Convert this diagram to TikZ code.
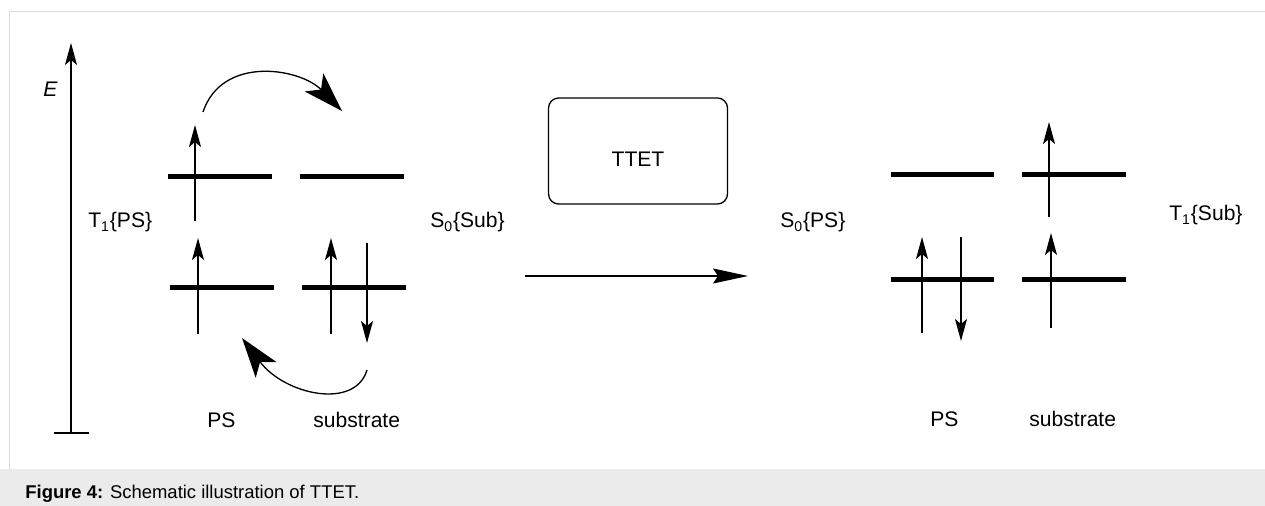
\documentclass[tikz,border=0pt]{standalone}
\usepackage{fontspec}
\setmainfont{Liberation Sans}
\usetikzlibrary{arrows.meta}
\definecolor{captionBand}{HTML}{EBEBEB}
\definecolor{frameLine}{HTML}{DCDCDC}
\newcommand{\labelSize}[0]{\fontsize{12}{14}\selectfont}

\begin{document}
\begin{tikzpicture}[x=0.02cm, y=-0.02cm]
  \tikzset{orbital/.style={line width=1mm},
    spin/.style={line width=0.75pt, -{Stealth[length=4.4mm, width=2.4mm, inset=1mm]}},
    hop/.style={line width=0.75pt, -{Stealth[length=8mm, width=5.2mm, inset=2mm]}},
    transfer/.style={line width=0.75pt, -{Stealth[length=7mm, width=3mm, inset=1mm]}},
    lbl/.style={inner sep=0, anchor=base west, font=\labelSize}}
  \useasboundingbox (0,0) rectangle (1265,506);
  \fill[captionBand] (0,469) rectangle (1265,506);
  \draw[frameLine] (9,469) -- (9,11) -- (1265,11);
  \node (caption) [inner sep=0, anchor=base west, font=\fontsize{10.5}{12}\selectfont]
    at (25,499) {\textbf{Figure 4:} Schematic illustration of TTET.};

  \coordinate (axisBottom) at (71,433);
  \coordinate (axisTop) at (71,43);
  \draw[spin] (axisBottom) -- (axisTop);
  \draw[line width=0.75pt] (54,433) -- (89,433);
  \node (energy) [lbl, font=\labelSize\itshape] at (43,97) {E};

  \draw[orbital] (168,177) -- (272,177);
  \draw[orbital] (300,177) -- (404,177);
  \draw[orbital] (170,288) -- (274,288);
  \draw[orbital] (302,288) -- (406,288);
  \draw[spin] (195,221) -- (195,125);
  \draw[spin] (198,334) -- (198,238);
  \draw[spin] (331,334) -- (331,238);
  \draw[spin] (367,243) -- (367,343);
  \node (T1PS) [lbl] at (88,228) {T\textsubscript{1}\{PS\}};
  \node (S0Sub) [lbl] at (430,228) {S\textsubscript{0}\{Sub\}};
  \node (PS-1) [lbl] at (207,428) {PS};
  \node (sub-1) [lbl] at (313,428) {substrate};

  \coordinate (hop-1-a) at (203,112);
  \coordinate (hop-1-b) at (342,111);
  \coordinate (hop-2-a) at (367,370);
  \coordinate (hop-2-b) at (242,338);
  \draw[hop] (hop-1-a) .. controls (222,55) and (300,68) .. (hop-1-b);
  \draw[hop] (hop-2-a) .. controls (355,410) and (285,395) .. (hop-2-b);

  \node (ttet) [draw, line width=0.75pt, rounded corners=2mm, minimum width=3.58cm,
    minimum height=2.12cm, text height=0.62cm, font=\labelSize] at (638,151) {TTET};
  \coordinate (go-a) at (525,276);
  \coordinate (go-b) at (748,276);
  \draw[transfer] (go-a) -- (go-b);

  \draw[orbital] (891,175) -- (994,175);
  \draw[orbital] (1022,175) -- (1126,175);
  \draw[orbital] (891,280) -- (994,280);
  \draw[orbital] (1022,280) -- (1126,280);
  \draw[spin] (922,333) -- (922,237);
  \draw[spin] (961,237) -- (961,341);
  \draw[spin] (1051,328) -- (1051,233);
  \draw[spin] (1049,217) -- (1049,122);
  \node (S0PS) [lbl] at (780,228) {S\textsubscript{0}\{PS\}};
  \node (T1Sub) [lbl] at (1169,221) {T\textsubscript{1}\{Sub\}};
  \node (PS-2) [lbl] at (930,427) {PS};
  \node (sub-2) [lbl] at (1029,427) {substrate};
\end{tikzpicture}
\end{document}
